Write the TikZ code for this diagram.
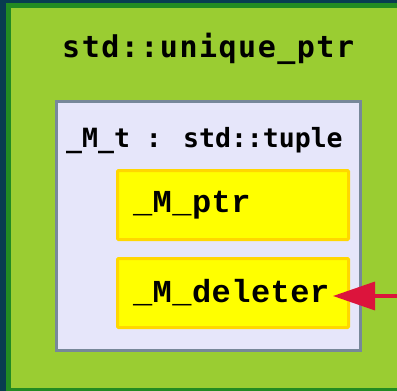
\documentclass[tikz,border=0pt]{standalone}
\usepackage{fontspec}
\usetikzlibrary{positioning,arrows.meta}

\newfontfamily\headmono[LetterSpace=5]{DejaVu Sans Mono}
\newfontfamily\tuplemono{DejaVu Sans Mono}
\newfontfamily\fieldmono[LetterSpace=1.5]{Liberation Mono}

\definecolor{bgteal}{RGB}{8,60,80}
\definecolor{forestgrn}{RGB}{34,139,34}
\definecolor{yellowgrn}{RGB}{154,205,50}
\definecolor{slategrey}{RGB}{119,136,153}
\definecolor{lavendr}{RGB}{230,230,250}
\definecolor{goldline}{RGB}{255,215,0}
\definecolor{yellowfill}{RGB}{255,255,0}
\definecolor{ptrred}{RGB}{220,20,60}

\begin{document}
\begin{tikzpicture}[
   x=1pt, y=-1pt,
   classbox/.style={draw=forestgrn, line width=5pt, fill=yellowgrn, inner sep=0pt},
   tuplebox/.style={draw=slategrey, line width=3pt, fill=lavendr, inner sep=0pt},
   fieldbox/.style={draw=goldline, line width=3pt, fill=yellowfill, rounded corners=1pt,
       minimum width=231pt, minimum height=69pt, text width=200pt, align=left,
       inner xsep=15.5pt, font=\fontsize{32}{34}\selectfont\fieldmono\bfseries},
   headlabel/.style={anchor=base west, inner sep=0pt},
   ownarrow/.style={draw=ptrred, line width=3.5pt, -{Triangle[length=42pt,width=28pt]}}]

\useasboundingbox (0,0) rectangle (397,391);
\clip (0,0) rectangle (397,391);
\fill[bgteal] (0,0) rectangle (397,391);

% unique_ptr and its tuple member
\node[classbox, minimum width=431.5pt, minimum height=385pt] (uptr) at (224.25,198) {};
\node[headlabel, font=\fontsize{30}{32}\selectfont\headmono\bfseries] (uptrname) at (62,57) {std::unique\_ptr};

\node[tuplebox, minimum width=304pt, minimum height=249pt] (tuple) at (208.5,226) {};
\node[headlabel, font=\fontsize{26.5}{30}\selectfont\tuplemono\bfseries]
   (tuplename) at (66,147) {\_M\_t : std::tuple};

% the two fields
\node[fieldbox] (ptr) at (233,205) {\_M\_ptr};
\node[fieldbox, below=16pt of ptr] (deleter) {\_M\_deleter};

\coordinate (owner) at (420,296);
\draw[ownarrow] (owner) -- ([xshift=-17pt,yshift=-3pt]deleter.east);

\end{tikzpicture}
\end{document}
